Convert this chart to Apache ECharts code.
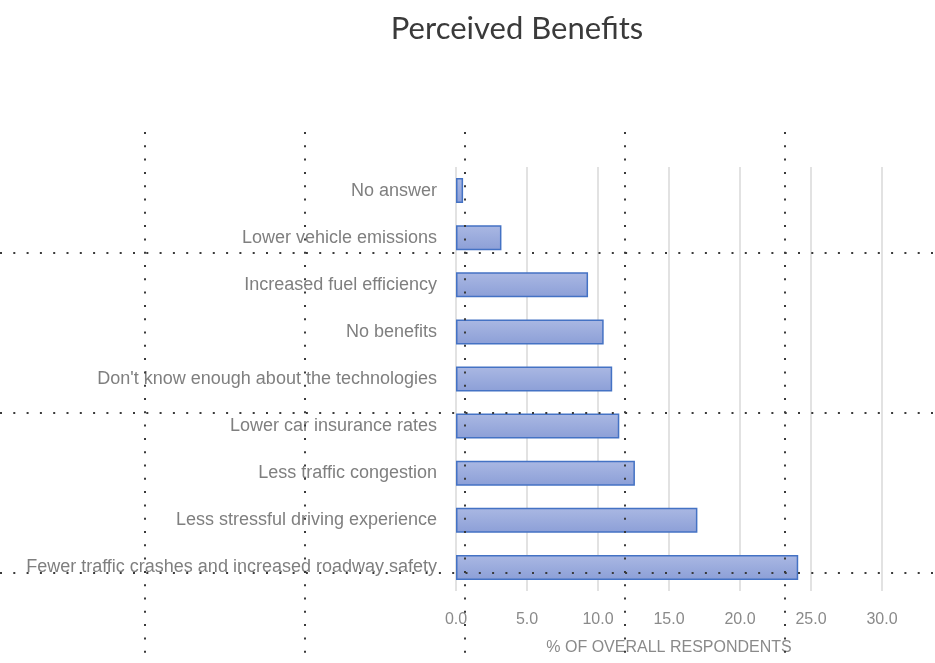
<!DOCTYPE html>
<html>
<head>
<meta charset="utf-8">
<script src="https://cdn.jsdelivr.net/npm/echarts@6/dist/echarts.min.js"></script>
<style>
html,body{margin:0;padding:0;background:#fff;}
#chart{width:935px;height:663px;}
</style>
</head>
<body>
<div id="chart"></div>
<script>
const categories = [
  "No answer",
  "Lower vehicle emissions",
  "Increased fuel efficiency",
  "No benefits",
  "Don't know enough about the technologies",
  "Lower car insurance rates",
  "Less traffic congestion",
  "Less stressful driving experience",
  "Fewer traffic crashes and increased roadway safety"
];
const values = [0.5, 3.2, 9.3, 10.4, 11.0, 11.5, 12.6, 17.0, 24.1];
const xTicks = [0, 5, 10, 15, 20, 25, 30];
const titleText = "Perceived Benefits";
const axisName = "% OF OVERALL RESPONDENTS";

const chart = echarts.init(document.getElementById('chart'), null, {renderer: 'canvas'});

// decorative dotted overlay lattice seen in the reference
const dotStyle = {stroke: '#3a3a3a', lineWidth: 2, lineDash: [2, 11.3]};
const overlay = [];
[145, 305, 465, 625, 785].forEach(x => overlay.push({
  type: 'line', z: 100, silent: true,
  shape: {x1: x, y1: 132, x2: x, y2: 663}, style: dotStyle
}));
[253, 413, 573].forEach(y => overlay.push({
  type: 'line', z: 100, silent: true,
  shape: {x1: 0, y1: y, x2: 935, y2: y}, style: dotStyle
}));

chart.setOption({
  animation: false,
  backgroundColor: '#ffffff',
  title: {
    text: titleText,
    left: 512, top: 8, textAlign: 'center',
    textStyle: {fontFamily: 'Lato', fontSize: 31, fontWeight: 'normal', color: '#3a3a3a'}
  },
  grid: {left: 456, right: 53, top: 167, bottom: 72, containLabel: false},
  xAxis: {
    type: 'value', min: 0, max: 30, interval: 5,
    axisLine: {show: false}, axisTick: {show: false},
    splitLine: {show: true, lineStyle: {color: '#d9d9d9', width: 1.5}},
    axisLabel: {
      margin: 21, color: '#8a8a8a', fontSize: 16, fontFamily: 'Liberation Sans',
      formatter: v => xTicks.includes(v) ? v.toFixed(1) : ''
    },
    name: axisName, nameLocation: 'middle', nameGap: 49,
    nameTextStyle: {color: '#8a8a8a', fontSize: 16, fontFamily: 'Liberation Sans'}
  },
  yAxis: {
    type: 'category', data: categories, inverse: true,
    axisLine: {show: false}, axisTick: {show: false},
    axisLabel: {margin: 19, color: '#7f7f7f', fontSize: 18, fontFamily: 'Liberation Sans'}
  },
  series: [{
    type: 'bar', data: values, barWidth: 25,
    itemStyle: {
      color: new echarts.graphic.LinearGradient(0, 0, 0, 1, [
        {offset: 0, color: '#aab8e3'},
        {offset: 1, color: '#8c9fd7'}
      ]),
      borderColor: '#4472c4', borderWidth: 1.5
    }
  }],
  graphic: overlay
});
</script>
</body>
</html>
